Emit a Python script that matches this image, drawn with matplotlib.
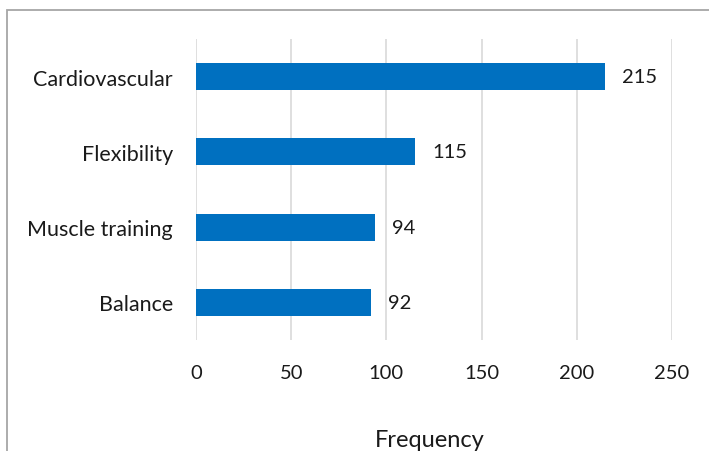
import matplotlib.pyplot as plt
from matplotlib.patches import Rectangle

categories = ["Cardiovascular", "Flexibility", "Muscle training", "Balance"]
counts = [215, 115, 94, 92]
xticks = [0, 50, 100, 150, 200, 250]

plt.rcParams['font.family'] = ['Lato', 'DejaVu Sans']

W, H = 709, 452
fig = plt.figure(figsize=(W / 100, H / 100), dpi=100)

# chart frame (right and bottom edges run off the canvas)
fig.patches.append(Rectangle((6.5 / W, -0.1), 1.2, 1 - 10.5 / H + 0.1,
                             transform=fig.transFigure, fill=False,
                             edgecolor='#a6a6a6', linewidth=1.3))

ax = fig.add_axes([196 / W, 1 - 341 / H, (672 - 196) / W, (341 - 40) / H])
ypos = list(range(len(categories)))
bars = ax.barh(ypos, counts, height=0.36, color='#0070c0', zorder=3)
ax.set_ylim(len(categories) - 0.5, -0.5)
ax.set_xlim(0, 250)

for y, v in zip(ypos, counts):
    ax.text(v + 9, y, str(v), va='center', ha='left', fontsize=14.5, color='#1a1a1a')

ax.set_yticks(ypos)
ax.set_yticklabels(categories, fontsize=15.5, color='#1a1a1a')
ax.set_xticks(xticks)
ax.set_xticklabels([str(t) for t in xticks], fontsize=14.5, color='#1a1a1a')
ax.tick_params(axis='both', length=0)
ax.tick_params(axis='y', pad=16.5)
ax.tick_params(axis='x', pad=17.5)
ax.grid(axis='x', color='#d9d9d9', linewidth=1.2, zorder=0)
for s in ax.spines.values():
    s.set_visible(False)

fig.text(430 / W, 1 - 441 / H, "Frequency", ha='center', va='center',
         fontsize=17, color='#1a1a1a')

fig.savefig("out.png", dpi=100)
